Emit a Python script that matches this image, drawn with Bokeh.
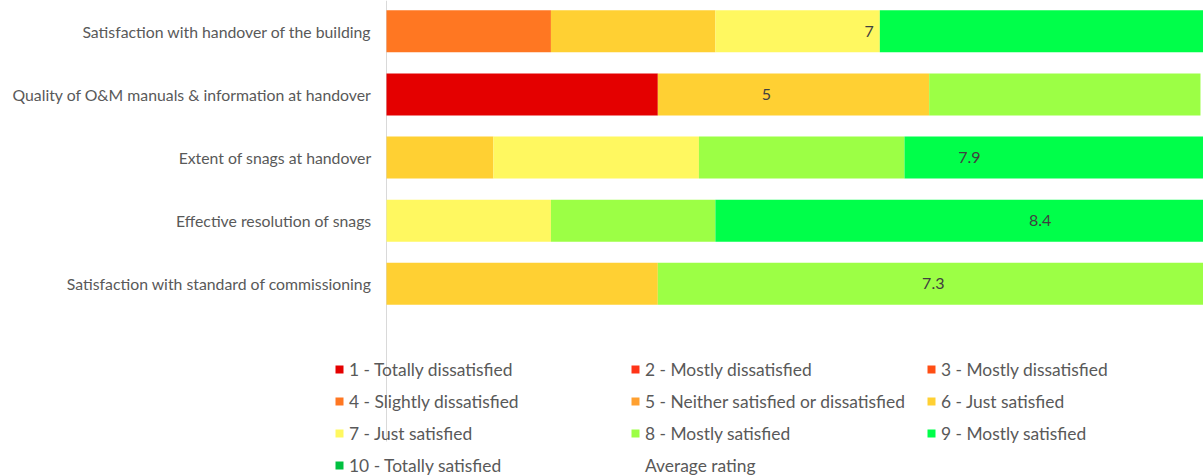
from bokeh.plotting import figure
from bokeh.models import ColumnDataSource, Range1d, Legend, LegendItem
from bokeh.core.properties import value
from bokeh.embed import file_html
from bokeh.resources import INLINE

# Survey questions (top to bottom)
categories = [
    "Satisfaction with handover of the building",
    "Quality of O&M manuals & information at handover",
    "Extent of snags at handover",
    "Effective resolution of snags",
    "Satisfaction with standard of commissioning",
]

# Rating scale
rating_labels = [
    "1 - Totally dissatisfied",
    "2 - Mostly dissatisfied",
    "3 - Mostly dissatisfied",
    "4 - Slightly dissatisfied",
    "5 - Neither satisfied or dissatisfied",
    "6 - Just satisfied",
    "7 - Just satisfied",
    "8 - Mostly satisfied",
    "9 - Mostly satisfied",
    "10 - Totally satisfied",
]

# Share of respondents (%) giving each rating, per question
pct_1 = [0, 33, 0, 0, 0]
pct_2 = [0, 0, 0, 0, 0]
pct_3 = [0, 0, 0, 0, 0]
pct_4 = [20, 0, 0, 0, 0]
pct_5 = [0, 0, 0, 0, 0]
pct_6 = [20, 33, 13, 0, 33]
pct_7 = [20, 0, 25, 20, 0]
pct_8 = [0, 33, 25, 20, 67]
pct_9 = [40, 0, 38, 60, 0]
pct_10 = [0, 0, 0, 0, 0]

# Mean rating per question
average_rating = [7.0, 5.0, 7.9, 8.4, 7.3]

# ---- styling / layout -------------------------------------------------------
FONT = "Lato"
TEXT_GREY = "#595959"
rating_colors = ["#e40000", "#ff3418", "#ff4e14", "#ff7722", "#ffa030",
                 "#ffd033", "#fff860", "#9cff45", "#00ff4a", "#00c040"]
avg_label_x = [58.7, 46.2, 70.9, 79.5, 66.5]   # where each mean label sits (% axis)
BAR_H = 0.665

W, H = 1203, 475
AXIS_PX = 386          # pixel column of the 0 % line
PX_PER_PCT = 8.222     # horizontal scale
ROW_PX = 63.12         # vertical distance between questions
ROW0_PX = 30.8         # centre of the first question
AXIS_BOTTOM_PX = 441   # where the vertical axis line stops

shares = [pct_1, pct_2, pct_3, pct_4, pct_5, pct_6, pct_7, pct_8, pct_9, pct_10]
rows = list(range(len(categories)))
data = {"row": rows}
keys = []
for i, vals in enumerate(shares):
    k = f"r{i + 1}"
    data[k] = vals
    keys.append(k)
src = ColumnDataSource(data)

x_start = -AXIS_PX / PX_PER_PCT
x_end = (W - AXIS_PX) / PX_PER_PCT
y_top = -ROW0_PX / ROW_PX
y_bottom = (H - ROW0_PX) / ROW_PX

p = figure(width=W, height=H, output_backend="svg", toolbar_location=None,
           x_range=Range1d(x_start, x_end), y_range=Range1d(y_bottom, y_top),
           min_border=0, x_axis_type=None, y_axis_type=None)
p.outline_line_color = None
p.grid.visible = False

# vertical category axis line
p.segment(x0=[0], y0=[y_top], x1=[0], y1=[(AXIS_BOTTOM_PX - ROW0_PX) / ROW_PX],
          line_color="#d9d9d9", line_width=1)

bars = p.hbar_stack(keys, y="row", height=BAR_H, fill_color=rating_colors,
                    line_color=None, source=src)
avg_dummy = p.hbar(y=[], right=[], height=BAR_H, fill_alpha=0, line_alpha=0)

# question labels, right-aligned just left of the axis line
p.text(x=[-15 / PX_PER_PCT] * len(rows), y=rows, text=categories,
       text_font=value(FONT), text_font_size="15.8px", text_color=TEXT_GREY,
       text_align="right", text_baseline="middle")

# mean rating labels
p.text(x=avg_label_x, y=rows, text=[f"{v:g}" for v in average_rating],
       text_font=value(FONT), text_font_size="16px", text_color="#404040",
       text_align="center", text_baseline="middle")

# Legend: three columns, filled row by row
renderers = list(bars) + [avg_dummy]
names = rating_labels + ["Average rating"]
columns = [[0, 3, 6, 9], [1, 4, 7, 10], [2, 5, 8]]
col_left = [334, 630, 926]
ROW_H, GAP, FIRST_ROW_Y = 21, 11, 369
TOP = FIRST_ROW_Y - ROW_H / 2
for idx, x0 in zip(columns, col_left):
    n = len(idx)
    h = n * ROW_H + (n - 1) * GAP
    lg = Legend(items=[LegendItem(label=names[j], renderers=[renderers[j]]) for j in idx],
                location=(x0, H - (TOP + h)),
                orientation="vertical", padding=0, margin=0, spacing=GAP,
                glyph_width=10, glyph_height=10, label_standoff=5,
                label_height=ROW_H, label_text_font=FONT,
                label_text_font_size="17.4px", label_text_color=TEXT_GREY,
                border_line_color=None, background_fill_alpha=0)
    p.add_layout(lg, "center")

open("out.html", "w").write(file_html(p, INLINE))
